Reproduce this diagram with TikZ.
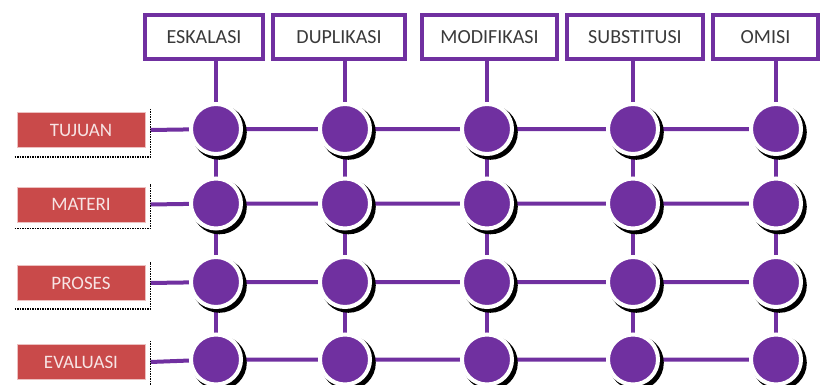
\documentclass[tikz,border=0pt]{standalone}
\usepackage{fontspec}
\setmainfont{Carlito}
\usetikzlibrary{shadows,backgrounds}

\definecolor{ungu}{HTML}{7030A0}
\definecolor{merah}{HTML}{C94A4A}
\definecolor{teks}{HTML}{3A3A3A}

\tikzset{
  kotak/.style={draw=ungu, line width=3.5pt, fill=white, minimum height=44pt,
    inner sep=0pt, text=teks, font=\fontsize{20}{24}\selectfont},
  barisbox/.style={fill=merah, draw=merah!35, line width=0.8pt, minimum width=128pt,
    minimum height=35pt, inner sep=0pt, text=white!85!merah, font=\fontsize{19}{23}\selectfont},
  titik/.style={circle, fill=ungu, draw=white, line width=4pt, minimum size=50pt, inner sep=0pt,
    drop shadow={shadow xshift=3pt, shadow yshift=-3pt, shadow scale=1.1, fill=black, opacity=1}},
  garis/.style={draw=ungu, line width=4pt},
  batas/.style={draw=black, densely dotted, line width=1.5pt}
}

\begin{document}
\begin{tikzpicture}[x=1pt,y=-1pt]
        \useasboundingbox (0,0) rectangle (821,385);

        % Kolom atas
        \node[kotak, minimum width=118pt] (K1) at (204,37) {ESKALASI};
        \node[kotak, minimum width=132pt] (K2) at (339,37) {DUPLIKASI};
        \node[kotak, minimum width=135pt] (K3) at (489.5,37) {MODIFIKASI};
        \node[kotak, minimum width=136pt] (K4) at (635,37) {SUBSTITUSI};
        \node[kotak, minimum width=105pt] (K5) at (765.5,37) {OMISI};

        % Baris kiri
        \node[barisbox] (B1) at (81,130) {TUJUAN};
        \node[barisbox] (B2) at (81,204.5) {MATERI};
        \node[barisbox] (B3) at (81,283) {PROSES};
        \node[barisbox] (B4) at (81,362) {EVALUASI};

        % Garis titik
        \draw[batas] ([shift={(-2,9)}]B1.south west) -- ([shift={(5,9)}]B1.south east) -- ([shift={(5,-3)}]B1.north east);
        \draw[batas] ([shift={(-2,6)}]B2.south west) -- ([shift={(5,6)}]B2.south east) -- ([shift={(5,-3)}]B2.north east);
        \draw[batas] ([shift={(-2,8)}]B3.south west) -- ([shift={(5,8)}]B3.south east) -- ([shift={(5,-3)}]B3.north east);
        \draw[batas] ([shift={(5,10)}]B4.south east) -- ([shift={(5,-3)}]B4.north east);

        % Titik
        \node[titik] (T11) at (216,129) {};
        \node[titik] (T12) at (345,129) {};
        \node[titik] (T13) at (487,129) {};
        \node[titik] (T14) at (633,129) {};
        \node[titik] (T15) at (776,129) {};

        \node[titik] (T21) at (216,203.5) {};
        \node[titik] (T22) at (345,203.5) {};
        \node[titik] (T23) at (487,203.5) {};
        \node[titik] (T24) at (633,203.5) {};
        \node[titik] (T25) at (776,203.5) {};

        \node[titik] (T31) at (216,282) {};
        \node[titik] (T32) at (345,282) {};
        \node[titik] (T33) at (487,282) {};
        \node[titik] (T34) at (633,282) {};
        \node[titik] (T35) at (776,282) {};

        \node[titik] (T41) at (216,359.5) {};
        \node[titik] (T42) at (345,359.5) {};
        \node[titik] (T43) at (487,359.5) {};
        \node[titik] (T44) at (633,359.5) {};
        \node[titik] (T45) at (776,359.5) {};

        \begin{scope}[on background layer]
        % Garis mendatar
        \draw[garis] ([xshift=5pt]B1.east) -- (T11) -- (T12) -- (T13) -- (T14) -- (T15);
        \draw[garis] ([xshift=5pt]B2.east) -- (T21) -- (T22) -- (T23) -- (T24) -- (T25);
        \draw[garis] ([xshift=5pt]B3.east) -- (T31) -- (T32) -- (T33) -- (T34) -- (T35);
        \draw[garis] ([xshift=5pt]B4.east) -- (T41) -- (T42) -- (T43) -- (T44) -- (T45);

        % Garis tegak
        \draw[garis] (T11 |- K1.south) -- (T11) -- (T21) -- (T31) -- (T41);
        \draw[garis] (T12 |- K2.south) -- (T12) -- (T22) -- (T32) -- (T42);
        \draw[garis] (T13 |- K3.south) -- (T13) -- (T23) -- (T33) -- (T43);
        \draw[garis] (T14 |- K4.south) -- (T14) -- (T24) -- (T34) -- (T44);
        \draw[garis] (T15 |- K5.south) -- (T15) -- (T25) -- (T35) -- (T45);
        \end{scope}
    \end{tikzpicture}
\end{document}
